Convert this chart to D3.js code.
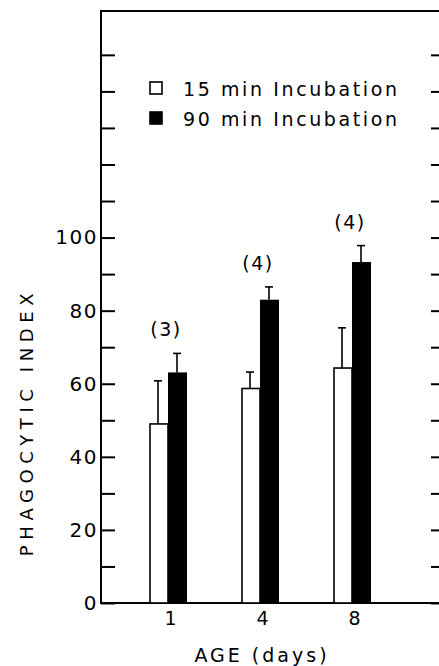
<!DOCTYPE html>
<meta charset="utf-8">
<style>
body { margin: 0; background: #fff; }
text { font-family: "DejaVu Sans", sans-serif; fill: #000; }
.tick line { stroke: #000; stroke-width: 2px; }
</style>
<svg id="svg" width="439" height="666"></svg>
<script src="https://d3js.org/d3.v7.min.js"></script>
<script>
var ages = ["1", "4", "8"];
var series = ["15 min Incubation", "90 min Incubation"];
var mean15 = [49, 58.7, 64.3];
var err15 = [11.8, 4.5, 11];
var mean90 = [63.1, 83, 93.3];
var err90 = [5.2, 3.5, 4.5];
var nLabels = ["(3)", "(4)", "(4)"];
var yTicks = d3.range(0, 151, 10);

var svg = d3.select("svg"),
    margin = {top: 11, right: -2, bottom: 63, left: 101},
    width = +svg.attr("width") - margin.left - margin.right,
    height = +svg.attr("height") - margin.top - margin.bottom;

var g = svg.append("g")
    .attr("transform", "translate(" + margin.left + "," + margin.top + ")");

var y = d3.scaleLinear().domain([0, 162]).range([height, 0]);
var x = d3.scalePoint().domain(ages).range([67, 251]);
var barW = 18;

// frame
g.append("rect")
    .attr("width", width).attr("height", height)
    .attr("fill", "none").attr("stroke", "#000").attr("stroke-width", 2);

// left axis, ticks inward, labels only 0..100 by 20
var yl = g.append("g")
    .call(d3.axisLeft(y).tickValues(yTicks).tickSizeInner(-14).tickSizeOuter(0).tickPadding(3)
      .tickFormat(function(d) { return (d <= 100 && d % 20 == 0) ? d : ""; }));
yl.select(".domain").remove();
yl.selectAll("text").style("font-size", "20px").attr("letter-spacing", "1.5");

// right axis ticks
var yr = g.append("g")
    .attr("transform", "translate(" + width + ",0)")
    .call(d3.axisRight(y).tickValues(yTicks).tickSizeInner(-10).tickSizeOuter(0).tickFormat(""));
yr.select(".domain").remove();

// x axis labels
var xa = g.append("g")
    .attr("transform", "translate(0," + height + ")")
    .call(d3.axisBottom(x).tickSize(0).tickPadding(9));
xa.select(".domain").remove();
xa.selectAll("text").style("font-size", "19px").attr("dx", "2");

// bars
var groups = g.selectAll(".grp")
    .data(ages)
    .enter().append("g")
    .attr("class", "grp")
    .attr("transform", function(d) { return "translate(" + x(d) + ",0)"; });

groups.append("rect")
    .attr("x", -barW).attr("width", barW)
    .attr("y", function(d, i) { return y(mean15[i]); })
    .attr("height", function(d, i) { return height - y(mean15[i]); })
    .attr("fill", "#fff").attr("stroke", "#000").attr("stroke-width", 1.6);

groups.append("rect")
    .attr("x", 0).attr("width", barW + 1)
    .attr("y", function(d, i) { return y(mean90[i]); })
    .attr("height", function(d, i) { return height - y(mean90[i]); })
    .attr("fill", "#000");

function errBar(sel, cx, means, errs) {
  sel.append("line")
    .attr("x1", cx).attr("x2", cx)
    .attr("y1", function(d, i) { return y(means[i]); })
    .attr("y2", function(d, i) { return y(means[i] + errs[i]); })
    .attr("stroke", "#000").attr("stroke-width", 1.6);
  sel.append("line")
    .attr("x1", cx - 4).attr("x2", cx + 4)
    .attr("y1", function(d, i) { return y(means[i] + errs[i]); })
    .attr("y2", function(d, i) { return y(means[i] + errs[i]); })
    .attr("stroke", "#000").attr("stroke-width", 1.6);
}
errBar(groups, -barW / 2 - 1, mean15, err15);
errBar(groups, barW / 2, mean90, err90);

groups.append("text")
    .attr("x", -2)
    .attr("y", function(d, i) { return y(mean90[i] + err90[i]) - 17; })
    .attr("text-anchor", "middle")
    .style("font-size", "19px")
    .attr("letter-spacing", "1.5")
    .text(function(d, i) { return nLabels[i]; });

// legend
var leg = g.selectAll(".leg")
    .data(series)
    .enter().append("g")
    .attr("class", "leg")
    .attr("transform", function(d, i) { return "translate(49," + (71 + i * 30) + ")"; });
leg.append("rect")
    .attr("width", 12).attr("height", 12)
    .attr("fill", function(d, i) { return i ? "#000" : "#fff"; })
    .attr("stroke", "#000").attr("stroke-width", 1.6);
leg.append("text")
    .attr("x", 33).attr("y", 14)
    .style("font-size", "19px")
    .attr("letter-spacing", "2.6")
    .text(function(d) { return d; });

// axis titles
svg.append("text")
    .attr("transform", "translate(33,422) rotate(-90)")
    .attr("text-anchor", "middle")
    .style("font-size", "18px")
    .attr("letter-spacing", "5.6")
    .text("PHAGOCYTIC INDEX");

svg.append("text")
    .attr("x", 262).attr("y", 662)
    .attr("text-anchor", "middle")
    .style("font-size", "19px")
    .attr("letter-spacing", "3")
    .text("AGE (days)");
</script>
